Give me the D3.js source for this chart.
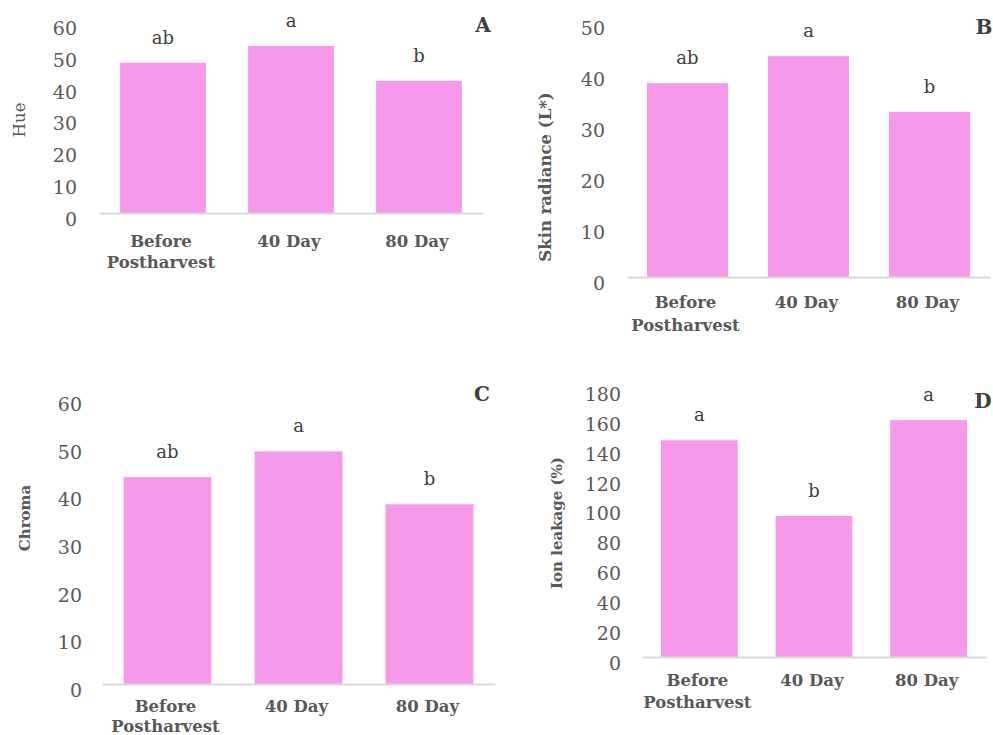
<!DOCTYPE html>
<html>
<head>
<meta charset="utf-8">
<script src="https://cdn.jsdelivr.net/npm/d3@7"></script>
<style>
  body { margin: 0; background: #fff; }
  text { font-family: "DejaVu Serif", "Liberation Serif", serif; }
</style>
</head>
<body>
<div id="graph"></div>
<script>
// shared categories
var categories = ["Before Postharvest", "40 Day", "80 Day"];

// A - hue
var hueValues = [47.2, 52.5, 41.5];
var hueLetters = ["ab", "a", "b"];
var hueTicks = [0, 10, 20, 30, 40, 50, 60];

// B - skin radiance
var radianceValues = [38.0, 43.3, 32.4];
var radianceLetters = ["ab", "a", "b"];
var radianceTicks = [0, 10, 20, 30, 40, 50];

// C - chroma
var chromaValues = [43.4, 48.8, 37.7];
var chromaLetters = ["ab", "a", "b"];
var chromaTicks = [0, 10, 20, 30, 40, 50, 60];

// D - ion leakage
var ionValues = [145, 94.3, 158.5];
var ionLetters = ["a", "b", "a"];
var ionTicks = [0, 20, 40, 60, 80, 100, 120, 140, 160, 180];

var barColor = "#f799eb",
    textColor = "#595959";

var svg = d3.select('#graph').append('svg')
    .attr('width', 993)
    .attr('height', 735);

function draw_panel(p){

  var x = d3.scaleBand()
      .domain(categories)
      .range([p.left, p.right])
      .paddingInner(0.33)
      .paddingOuter(0.165);

  var y = d3.scaleLinear()
      .domain([0, d3.max(p.ticks)])
      .range([p.base, p.top]);

  var g = svg.append('g');

  // bars
  g.selectAll('rect.bar')
      .data(p.values)
      .enter()
      .append('rect')
      .attr('class', 'bar')
      .attr('x', function(d,i){ return x(categories[i]); })
      .attr('width', x.bandwidth())
      .attr('y', function(d){ return y(d); })
      .attr('height', function(d){ return y(0) - y(d); })
      .style('fill', barColor);

  // baseline
  var xAxis = g.append('g')
      .attr('transform', 'translate(0,' + p.base + ')')
      .call(d3.axisBottom(x).tickSize(0).tickSizeOuter(0).tickFormat(''));
  xAxis.select('.domain')
      .attr('stroke', '#d9d9d9')
      .attr('stroke-width', 2);

  // category labels
  g.selectAll('text.cat')
      .data(categories)
      .enter()
      .append('text')
      .attr('class', 'cat')
      .attr('text-anchor', 'middle')
      .attr('font-size', '16.5px')
      .style('font-weight', 'bold')
      .attr('fill', textColor)
      .each(function(d){
        var t = d3.select(this);
        var words = d === "Before Postharvest" ? ["Before", "Postharvest"] : [d];
        words.forEach(function(w, k){
          t.append('tspan')
            .attr('x', x(d) + x.bandwidth()/2 - 2)
            .attr('y', p.catY + k*p.catGap)
            .text(w);
        });
      });

  // y tick labels
  var yAxis = g.append('g')
      .attr('transform', 'translate(' + p.tickRight + ',0)')
      .call(d3.axisLeft(y).tickValues(p.ticks).tickSize(0).tickPadding(0));
  yAxis.select('.domain').remove();
  yAxis.selectAll('text')
      .attr('fill', textColor)
      .attr('font-size', '19px')
      .attr('font-family', '"DejaVu Serif", serif')
      .attr('dy', '0.65em');

  // significance letters
  g.selectAll('text.sig')
      .data(p.values)
      .enter()
      .append('text')
      .attr('class', 'sig')
      .attr('text-anchor', 'middle')
      .attr('font-size', '18px')
      .attr('fill', '#404040')
      .attr('x', function(d,i){ return x(categories[i]) + x.bandwidth()/2; })
      .attr('y', function(d){ return y(d) - 19; })
      .text(function(d,i){ return p.letters[i]; });

  // y title
  g.append('text')
      .attr('transform', 'translate(' + p.titleX + ',' + p.titleY + ')rotate(-90)')
      .attr('text-anchor', 'middle')
      .attr('dy', '0.35em')
      .attr('font-size', p.titleSize)
      .style('font-weight', p.titleBold ? 'bold' : 'normal')
      .attr('fill', textColor)
      .text(p.title);

  // panel letter
  g.append('text')
      .attr('x', p.tagX)
      .attr('y', p.tagY)
      .attr('text-anchor', 'middle')
      .attr('font-size', '20px')
      .style('font-weight', 'bold')
      .attr('fill', '#404040')
      .text(p.tag);
}

draw_panel({values: hueValues, letters: hueLetters, ticks: hueTicks,
  left: 99, right: 483, base: 213, top: 22, tickRight: 77,
  catY: 247, catGap: 21, title: "Hue", titleX: 19, titleY: 120, titleSize: '16.5px', titleBold: false,
  tag: "A", tagX: 483, tagY: 32});

draw_panel({values: radianceValues, letters: radianceLetters, ticks: radianceTicks,
  left: 627, right: 990, base: 277, top: 22, tickRight: 605,
  catY: 308, catGap: 23, title: "Skin radiance (L*)", titleX: 545, titleY: 177, titleSize: '16.5px', titleBold: true,
  tag: "B", tagX: 984, tagY: 34});

draw_panel({values: chromaValues, letters: chromaLetters, ticks: chromaTicks,
  left: 102, right: 495, base: 684, top: 398, tickRight: 82,
  catY: 712, catGap: 20, title: "Chroma", titleX: 25, titleY: 518, titleSize: '15px', titleBold: true,
  tag: "C", tagX: 482, tagY: 401});

draw_panel({values: ionValues, letters: ionLetters, ticks: ionTicks,
  left: 642, right: 986, base: 657, top: 388, tickRight: 621,
  catY: 686, catGap: 22, title: "Ion leakage (%)", titleX: 557, titleY: 523, titleSize: '15px', titleBold: true,
  tag: "D", tagX: 983, tagY: 408});
</script>
</body>
</html>
